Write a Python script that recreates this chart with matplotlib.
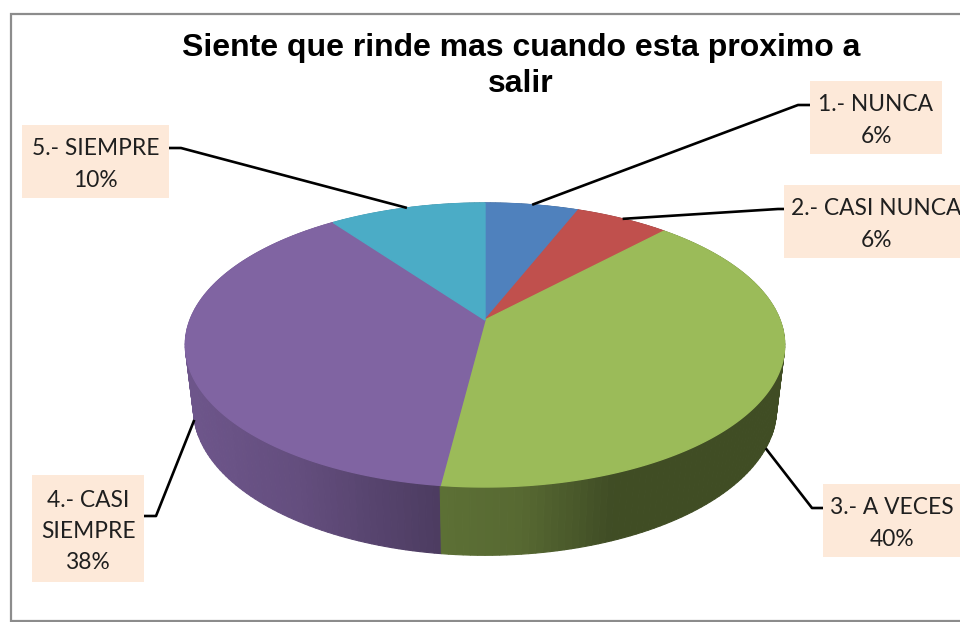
# 3D style pie of survey answers, drawn by hand because matplotlib has no perspective pie
import numpy as np
import matplotlib
matplotlib.use("Agg")
import matplotlib.pyplot as plt
from matplotlib.patches import Polygon, Rectangle

title = "Siente que rinde mas cuando esta proximo a\nsalir"
categories = ["1.- NUNCA", "2.- CASI NUNCA", "3.- A VECES", "4.- CASI\nSIEMPRE", "5.- SIEMPRE"]
values = [6, 6, 40, 38, 10]
colors = ["#4f81bd", "#c0504d", "#9bbb59", "#8064a2", "#4bacc6"]

# label box (left, top, right, bottom) in pixels and the elbow of its leader
boxes = [(810, 81, 942, 154), (784, 185, 968, 258), (823, 484, 960, 557),
         (32, 475, 144, 582), (22, 125, 169, 198)]
elbows = [(798, 105), (778, 209), (812, 508), (156, 516), (181, 148)]
box_sides = [(810, 105), (784, 209), (823, 508), (144, 516), (169, 148)]
on_bottom_rim = [False, False, True, True, False]

# pie geometry, pixels
cx = 485
k = 0.176
top = dict(cy=320, rx=295, sy=137.6)
bot = dict(cy=383, rx=287, sy=142)


def project(pct, rim):
    # percent clockwise from 12 o'clock to a point on the rim, with perspective
    a = np.radians(np.asarray(pct) * 3.6)
    u, v = np.sin(a), -np.cos(a)
    w = 1 - k * v
    return cx + rim["rx"] * u / w, rim["cy"] + rim["sy"] * v / w


def side_shade(x):
    # the side wall gets darker towards the right
    return np.interp(x, [190, 300, 438, 520, 610, 790], [0.86, 0.78, 0.60, 0.56, 0.41, 0.41])


fig = plt.figure(figsize=(9.6, 6.22), dpi=100)
ax = fig.add_axes([0, 0, 1, 1])
ax.set_xlim(0, 960)
ax.set_ylim(622, 0)
ax.axis("off")

# chart frame
ax.add_patch(Rectangle((10.5, 13.5), 970, 607, fc="white", ec="#8c8c8c", lw=1.6))

edges = np.cumsum([0] + values)

# side wall, strips from the back of the pie to the front
strips = []
for i, val in enumerate(values):
    steps = np.linspace(edges[i], edges[i + 1], int(val * 3) + 1)
    for p0, p1 in zip(steps[:-1], steps[1:]):
        x0, y0 = project(p0, top)
        x1, y1 = project(p1, top)
        x2, y2 = project(p1, bot)
        x3, y3 = project(p0, bot)
        strips.append((y2 + y3, [(x0, y0), (x1, y1), (x2, y2), (x3, y3)], colors[i], (x2 + x3) / 2))
for _, pts, col, xm in sorted(strips, key=lambda s: s[0]):
    rgb = np.array(matplotlib.colors.to_rgb(col)) * side_shade(xm)
    ax.add_patch(Polygon(pts, closed=True, fc=rgb, ec=rgb, lw=0.8))

# top face
for i, val in enumerate(values):
    steps = np.linspace(edges[i], edges[i + 1], int(val * 6) + 2)
    xs, ys = project(steps, top)
    pts = [(cx, top["cy"])] + list(zip(xs, ys))
    ax.add_patch(Polygon(pts, closed=True, fc=colors[i], ec=colors[i], lw=1.0))

# labels and leaders
for i, cat in enumerate(categories):
    left, upper, right, lower = boxes[i]
    rim = bot if on_bottom_rim[i] else top
    mx, my = project(edges[i] + values[i] / 2, rim)
    ax.plot([box_sides[i][0], elbows[i][0], mx], [box_sides[i][1], elbows[i][1], my],
            color="black", lw=1.9, solid_capstyle="butt", solid_joinstyle="round", zorder=3)
    ax.add_patch(Rectangle((left, upper), right - left, lower - upper, fc="#fde9d9", ec="none", zorder=4))
    ax.text((left + right) / 2, (upper + lower) / 2 + 3, f"{cat}\n{values[i]}%", family="Lato",
            fontsize=16.4, color="#1f1f1f", ha="center", va="center", linespacing=1.6, zorder=5)

ax.text(521, 66, title, family="Liberation Sans", fontweight="bold", fontsize=23,
        color="black", ha="center", va="center", linespacing=1.3)

fig.savefig("out.png", dpi=100)
